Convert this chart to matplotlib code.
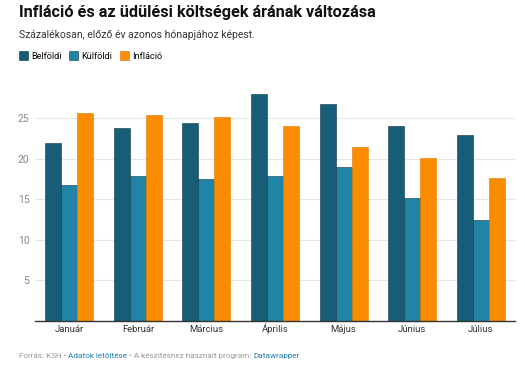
import matplotlib.pyplot as plt
import numpy as np

plt.rcParams['font.family'] = ['Roboto', 'DejaVu Sans']

months = ['Január', 'Február', 'Március', 'Április', 'Május', 'Június', 'Július']
belfoldi = [22.0, 23.8, 24.4, 28.0, 26.8, 24.0, 23.0]
kulfoldi = [16.8, 17.9, 17.5, 17.9, 19.0, 15.1, 12.4]
inflacio = [25.7, 25.4, 25.2, 24.0, 21.5, 20.1, 17.6]
yticks = [5, 10, 15, 20, 25]

colors = ['#175d78', '#1f84a6', '#fb8c00']
names = ['Belföldi', 'Külföldi', 'Infláció']

fig = plt.figure(figsize=(5.25, 3.68), dpi=100)
ax = fig.add_axes([0.0667, 0.1285, 0.9143, 0.6225])

x = np.arange(len(months))
w = 0.7 / 3
for i, (vals, c, n) in enumerate(zip([belfoldi, kulfoldi, inflacio], colors, names)):
    ax.bar(x + (i - 1) * w, vals, width=w, color=c, label=n, zorder=3,
           edgecolor='#0b3344' if i < 2 else '#e07a00', linewidth=0.4)

ax.set_xlim(-0.5, len(months) - 0.5)
ax.set_ylim(0, 28.3)
ax.set_yticks(yticks)
ax.set_xticks(x)
ax.set_xticklabels(months, fontsize=6.8, color='#333333', va='baseline')
ax.tick_params(axis='y', length=0, labelsize=7.5, labelcolor='#888888', pad=4)
ax.tick_params(axis='x', length=0, pad=8)
ax.grid(axis='y', color='#e6e6e6', linewidth=0.8, zorder=0)
for s in ['top', 'right', 'left']:
    ax.spines[s].set_visible(False)
ax.spines['bottom'].set_color('#333333')
ax.spines['bottom'].set_linewidth(1.0)
ax.spines['bottom'].set_zorder(4)

fig.text(19 / 525, 1 - 12 / 368, 'Infláció és az üdülési költségek árának változása',
         fontsize=11.7, fontweight='bold', va='center', ha='left', color='#111111')
fig.text(19 / 525, 1 - 35 / 368, 'Százalékosan, előző év azonos hónapjához képest.',
         fontsize=7.5, va='center', ha='left', color='#333333')

fig.legend(loc='center left', bbox_to_anchor=(19 / 525, 1 - 56 / 368), ncol=3,
           frameon=False, fontsize=6.6, handlelength=1.0, handleheight=1.0,
           handletextpad=0.35, columnspacing=0.8, borderaxespad=0, borderpad=0)

# footer with coloured links
parts = [('Forrás: KSH • ', '#999999'), ('Adatok letöltése', '#1d7fb0'),
         (' • A készítéshez használt program: ', '#999999'), ('Datawrapper', '#1d7fb0')]
renderer = fig.canvas.get_renderer()
xpos = 19 / 525
for txt, col in parts:
    t = fig.text(xpos, 1 - 356 / 368, txt, fontsize=5.9, color=col, va='center', ha='left')
    bb = t.get_window_extent(renderer=renderer)
    xpos += bb.width / fig.bbox.width

fig.savefig('out.png', dpi=100)
